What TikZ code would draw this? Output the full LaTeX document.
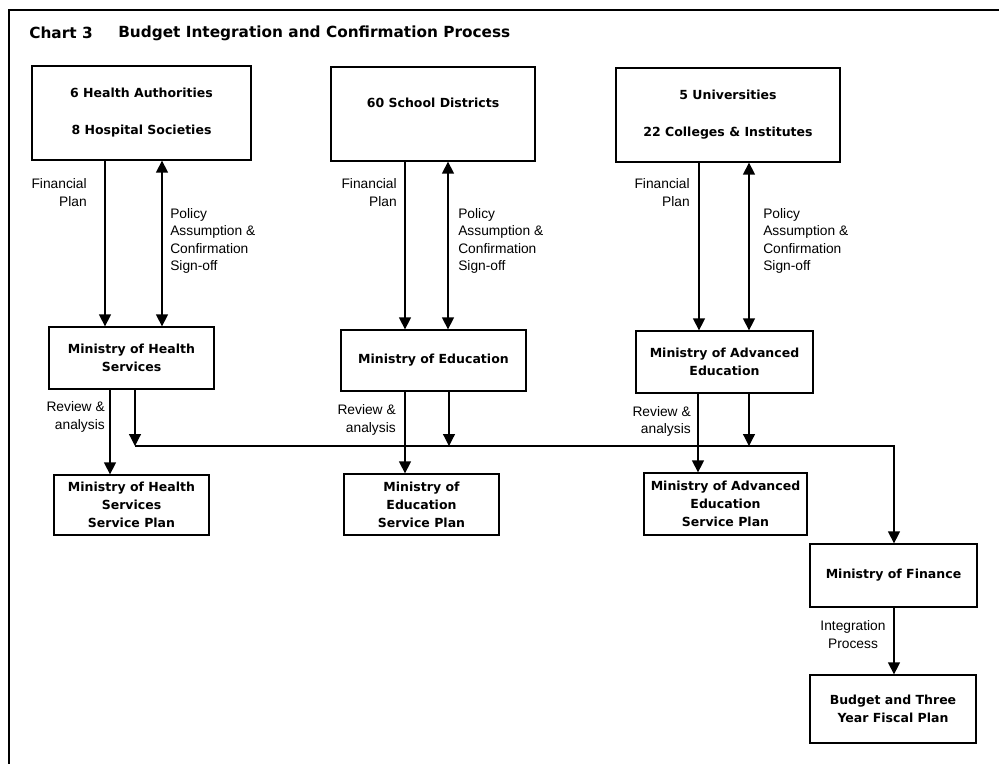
\documentclass[tikz,border=0pt]{standalone}
\usepackage{fontspec}
\setmainfont{DejaVu Sans}
\newfontfamily\lblfont{Liberation Sans}
\usetikzlibrary{arrows.meta}

% one unit = one pixel of the chart
\newlength{\pxu}
\setlength{\pxu}{0.025cm}

\tikzset{
  box/.style={draw, line width=0.9pt, inner sep=0pt, align=center,
    font=\bfseries\fontsize{8.9}{12.8}\selectfont},
  lbl/.style={inner sep=0pt, font=\lblfont\fontsize{9.8}{12.4}\selectfont},
  arr/.style={line width=0.85pt, -{Triangle[length=8.5pt, width=8.5pt]}},
  dblarr/.style={line width=0.85pt, {Triangle[length=8.5pt, width=8.5pt]}-{Triangle[length=8.5pt, width=8.5pt]}},
  ttl/.style={anchor=west, inner sep=0pt, font=\bfseries\fontsize{10.9}{13}\selectfont},
}

\begin{document}
\begin{tikzpicture}[x=\pxu, y=-\pxu]
\useasboundingbox (0,0) rectangle (999,764);

% FRAME & TITLE
\draw[line width=1.4pt] (999,10) -- (9,10) -- (9,764);
\node[ttl] (chart) at (29,33) {Chart 3};
\node[ttl] (title) at (118,33) {Budget Integration and Confirmation Process};

% SOURCES
\node[box, minimum width=219\pxu, minimum height=94\pxu] (HA) at (141.5,113)
  {6 Health Authorities\\[13.5pt]8 Hospital Societies};
\node[box, minimum width=204\pxu, minimum height=94\pxu] (SD) at (433,114)
  {60 School Districts\\\strut};
\node[box, minimum width=224\pxu, minimum height=94\pxu] (UC) at (728,115)
  {5 Universities\\[13.5pt]22 Colleges \& Institutes};

% MINISTRIES
\node[box, minimum width=165\pxu, minimum height=62\pxu] (MoHS) at (131.5,358)
  {Ministry of Health\\Services};
\node[box, minimum width=185\pxu, minimum height=61\pxu] (MoE) at (433.5,360.5)
  {Ministry of Education};
\node[box, minimum width=177\pxu, minimum height=62\pxu] (MoAE) at (724.5,362)
  {Ministry of Advanced\\Education};

% SERVICE PLANS
\node[box, minimum width=155\pxu, minimum height=60\pxu] (HSP) at (131.5,505)
  {Ministry of Health\\Services\\Service Plan};
\node[box, minimum width=155\pxu, minimum height=61\pxu] (ESP) at (421.5,504.5)
  {Ministry of\\Education\\Service Plan};
\node[box, minimum width=163\pxu, minimum height=62\pxu] (ASP) at (725.5,504)
  {Ministry of Advanced\\Education\\Service Plan};

% FINANCE
\node[box, minimum width=167\pxu, minimum height=63\pxu] (MoF) at (893.5,575.5)
  {Ministry of Finance};
\node[box, minimum width=166\pxu, minimum height=68\pxu] (BFP) at (893,709)
  {Budget and Three\\Year Fiscal Plan};

% helper coordinates
\coordinate (busL) at (135,446);
\coordinate (busR) at (894,446);

% EDGES
\foreach \src/\mny/\pln/\f/\p/\r/\b in {HA/MoHS/HSP/105/162/110/135,
    SD/MoE/ESP/405/448/405/449, UC/MoAE/ASP/699/749/698/749} {
  \draw[arr] (\src.south -| \f,0) -- (\mny.north -| \f,0);
  \draw[dblarr] (\src.south -| \p,0) -- (\mny.north -| \p,0);
  \draw[arr] (\mny.south -| \r,0) -- (\pln.north -| \r,0);
  \draw[arr] (\mny.south -| \b,0) -- (busL -| \b,0);
}
\draw[arr] (busL) -- (busR) -- (MoF.north -| busR);
\draw[arr] (MoF.south -| busR) -- (BFP.north -| busR);

% LABELS
\foreach \n/\fx/\px/\rx/\ry in {H/87/170/105/417, E/397/458/396/420, A/690/763/691/421.5} {
  \node[lbl, anchor=east, align=right] (fin\n) at (\fx,192.5) {Financial\\Plan};
  \node[lbl, anchor=west, align=left] (pol\n) at (\px,241)
    {Policy\\Assumption \&\\Confirmation\\Sign-off};
  \node[lbl, anchor=east, align=right] (rev\n) at (\rx,\ry) {Review \&\\analysis};
}
\node[lbl, align=center] (intg) at (853,634.5) {Integration\\Process};

\end{tikzpicture}
\end{document}
